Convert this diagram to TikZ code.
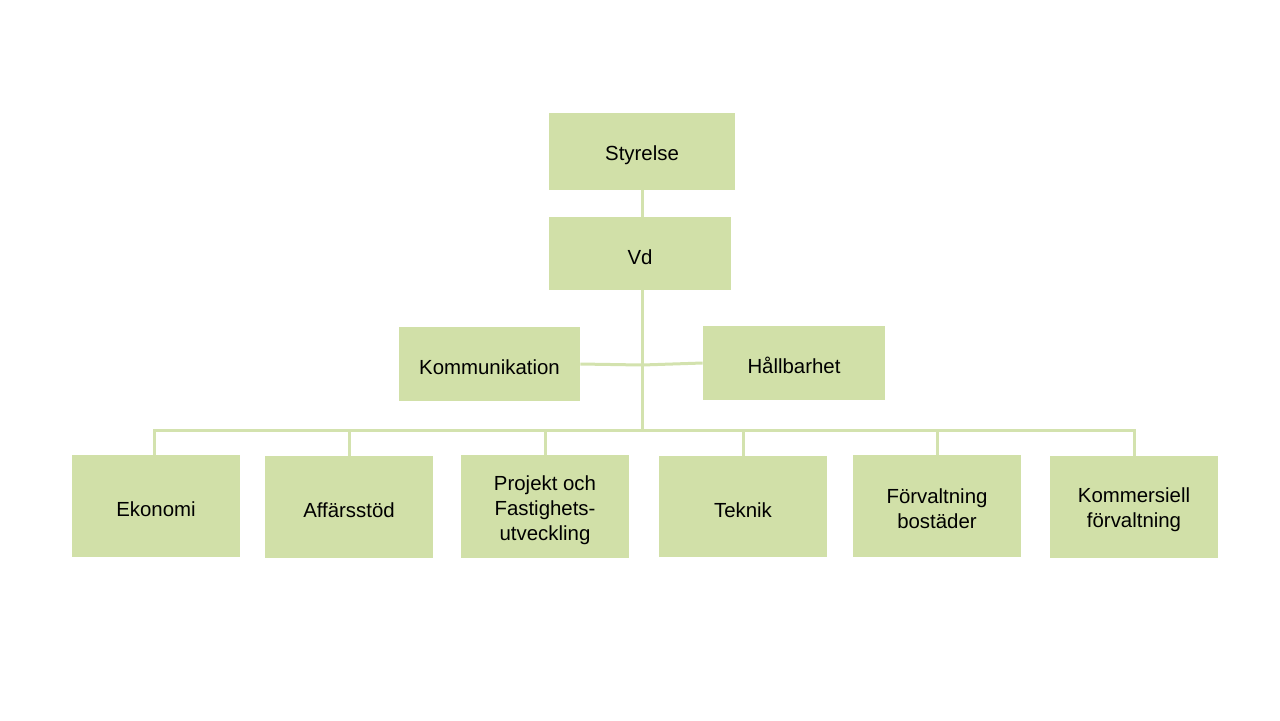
\documentclass[tikz,border=0pt]{standalone}
\usepackage{fontspec}
\setmainfont{Liberation Sans}
\definecolor{boxfill}{HTML}{D1E0A8}
\definecolor{linecol}{HTML}{D3E2AE}
\begin{document}
\begin{tikzpicture}[x=0.5pt,y=-0.5pt,
  box/.style={fill=boxfill,draw=none,inner sep=0pt,align=center,font=\fontsize{10.2}{12.5}\selectfont,
    execute at begin node={\rule{0pt}{11pt}}},
  multi/.style={execute at begin node={\rule{0pt}{#1}}},
  conn/.style={draw=linecol,line width=1.5pt}]
\useasboundingbox (0,0) rectangle (1280,720);
\node[box,minimum width=93pt,minimum height=38.5pt] (sty) at (642,151.5) {Styrelse};
\node[box,minimum width=91pt,minimum height=36.5pt] (vd) at (640,253.5) {Vd};
\node[box,minimum width=90.5pt,minimum height=37pt] (kom) at (489.5,364) {Kommunikation};
\node[box,minimum width=91pt,minimum height=37pt] (hal) at (794,363) {Hållbarhet};
\node[box,minimum width=84pt,minimum height=51pt] (eko) at (156,506) {Ekonomi};
\node[box,minimum width=84pt,minimum height=51pt] (aff) at (349,507) {Affärsstöd};
\node[box,multi=36pt,minimum width=84pt,minimum height=51.5pt] (pro) at (545,506.5) {Projekt och\\Fastighets-\\utveckling};
\node[box,minimum width=84pt,minimum height=50.5pt] (tek) at (743,506.5) {Teknik};
\node[box,multi=23pt,minimum width=84pt,minimum height=51pt] (forv) at (937,506) {Förvaltning\\bostäder};
\node[box,multi=23pt,minimum width=84pt,minimum height=51pt] (kmf) at (1134,507) {Kommersiell\\förvaltning};
\coordinate (bus) at (642,430);
\coordinate (mid) at (642,365);
\draw[conn] (sty.south -| 642,0) -- (vd.north -| 642,0);
\draw[conn] (vd.south -| 642,0) -- (bus);
\draw[conn] (kom.east) -- (mid) -- (hal.west);
\draw[conn] (eko.north -| 154,0) |- (bus) -| (kmf.north);
\foreach \n in {aff,pro,tek,forv}{\draw[conn] (\n.north) -- (\n.north |- bus);}
\end{tikzpicture}
\end{document}
